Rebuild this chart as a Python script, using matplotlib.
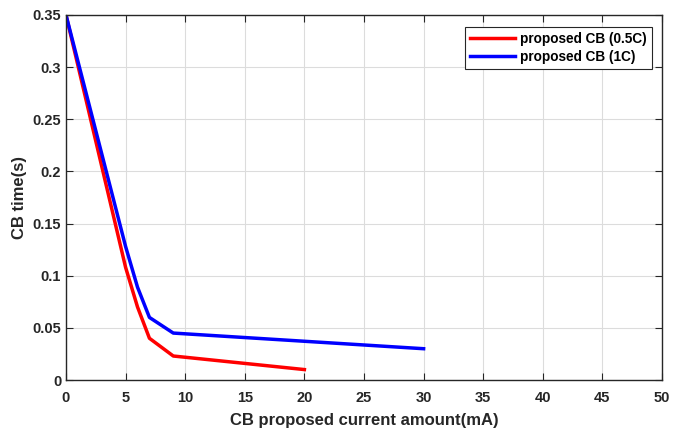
import matplotlib
matplotlib.use("Agg")
import matplotlib.pyplot as plt
import numpy as np

plt.rcParams['font.family'] = ['Liberation Sans', 'DejaVu Sans']
plt.rcParams['font.weight'] = 'bold'

# data
x_half = [0, 5, 6, 7, 9, 20]
y_half = [0.35, 0.108, 0.070, 0.040, 0.023, 0.010]
x_one = [0, 5, 6, 7, 9, 30]
y_one = [0.35, 0.128, 0.089, 0.060, 0.045, 0.030]

xticks = np.arange(0, 51, 5)
yticks = [0, 0.05, 0.1, 0.15, 0.2, 0.25, 0.3, 0.35]
yticklabels = ['0', '0.05', '0.1', '0.15', '0.2', '0.25', '0.3', '0.35']


def main():
    fig = plt.figure(figsize=(6.73, 4.28), dpi=100)
    ax = fig.add_axes([66/673, 48/428, 596/673, 365/428])
    ax.plot(x_half, y_half, color='#ff0000', linewidth=2.5, label='proposed CB (0.5C)')
    ax.plot(x_one, y_one, color='#0000ff', linewidth=2.5, label='proposed CB (1C)')

    ax.set_xlim(0, 50)
    ax.set_ylim(0, 0.35)
    ax.set_xticks(xticks)
    ax.set_yticks(yticks)
    ax.set_yticklabels(yticklabels)
    ax.grid(True, color='#dcdcdc', linewidth=0.8)
    ax.set_axisbelow(True)
    ax.tick_params(axis='both', which='both', direction='in', top=True, right=True,
                   labelsize=10.5, colors='#262626', length=5, width=0.8)
    ax.tick_params(axis='x', pad=8)
    for s in ax.spines.values():
        s.set_color('#262626')
        s.set_linewidth(1.0)

    ax.set_xlabel('CB proposed current amount(mA)', fontsize=12, fontweight='bold',
                  color='#262626', labelpad=6)
    ax.set_ylabel('CB time(s)', fontsize=12, fontweight='bold', color='#262626')

    leg = ax.legend(loc='upper right', bbox_to_anchor=(0.983, 0.967), fontsize=9.8,
                    fancybox=False, framealpha=1, edgecolor='#262626',
                    handlelength=3.3, borderpad=0.35, labelspacing=0.3,
                    handletextpad=0.4, borderaxespad=0)
    leg.get_frame().set_linewidth(0.8)
    for t in leg.get_texts():
        t.set_fontweight('bold')

    fig.savefig('out.png', dpi=100)
    plt.close(fig)


if __name__ == "__main__":
    main()
